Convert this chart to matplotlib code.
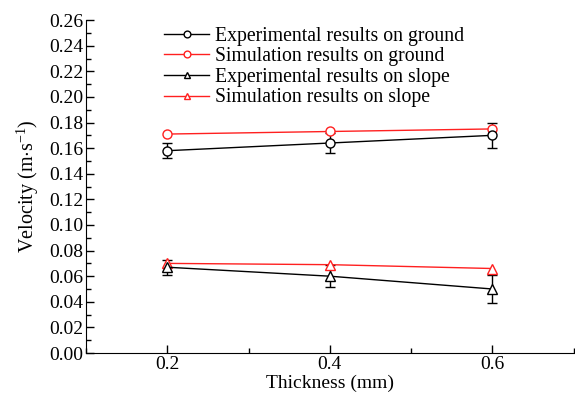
import matplotlib.pyplot as plt
from matplotlib.lines import Line2D
from matplotlib.ticker import MultipleLocator

plt.rcParams["font.family"] = ["Liberation Serif", "DejaVu Serif"]
plt.rcParams["mathtext.fontset"] = "custom"
plt.rcParams["mathtext.rm"] = "Liberation Serif"

thickness = [0.2, 0.4, 0.6]

exp_ground = [0.158, 0.164, 0.170]
exp_ground_err = [0.006, 0.008, 0.010]
sim_ground = [0.171, 0.173, 0.175]

exp_slope = [0.067, 0.060, 0.050]
exp_slope_err = [0.006, 0.0085, 0.011]
sim_slope = [0.070, 0.069, 0.066]

labels = [
    "Experimental results on ground",
    "Simulation results on ground",
    "Experimental results on slope",
    "Simulation results on slope",
]
RED = "#ff2020"

fig = plt.figure(figsize=(5.75, 3.94), dpi=100)
ax = fig.add_axes([0.1496, 0.104, 0.848, 0.845])

mk = dict(markersize=6.5, markerfacecolor="white", markeredgewidth=1.0, linewidth=1.0)
eb = dict(capsize=3.5, elinewidth=1.0, capthick=1.0)
ax.errorbar(thickness, exp_ground, yerr=exp_ground_err, color="black", marker="o", **eb, **mk)
ax.plot(thickness, sim_ground, color=RED, marker="o", **mk)
ax.errorbar(thickness, exp_slope, yerr=exp_slope_err, color="black", marker="^", **eb, **mk)
ax.plot(thickness, sim_slope, color=RED, marker="^", **mk)

ax.set_xlim(0.1, 0.7)
ax.set_ylim(0.0, 0.26)
ax.set_xticks([0.2, 0.4, 0.6])
ax.set_xticklabels(["0.2", "0.4", "0.6"])
ax.xaxis.set_minor_locator(MultipleLocator(0.1))
yt = [i * 0.02 for i in range(14)]
ax.set_yticks(yt)
ax.set_yticklabels([f"{v:.2f}" for v in yt])
ax.yaxis.set_minor_locator(MultipleLocator(0.01))
ax.set_ylim(0.0, 0.26)

ax.tick_params(which="both", direction="in", labelsize=14, width=1.0)
ax.tick_params(which="major", length=6, pad=2)
ax.tick_params(which="minor", length=3.5)
for side in ["top", "right"]:
    ax.spines[side].set_visible(False)

ax.set_xlabel("Thickness (mm)", fontsize=14, labelpad=1)
ax.set_ylabel(r"Velocity (m$\cdot$s$^{-1}$)", fontsize=14.5)
ax.yaxis.set_label_coords(-0.093, 0.5)

handles = [
    Line2D([], [], color="black", marker="o", **mk),
    Line2D([], [], color=RED, marker="o", **mk),
    Line2D([], [], color="black", marker="^", **mk),
    Line2D([], [], color=RED, marker="^", **mk),
]
ax.legend(handles, labels, loc="upper left", bbox_to_anchor=(0.16, 0.98), frameon=False,
          fontsize=14.2, handlelength=2.3, handletextpad=0.3, labelspacing=0.08,
          borderaxespad=0, borderpad=0, markerscale=0.75)

fig.savefig("out.png", dpi=100)
